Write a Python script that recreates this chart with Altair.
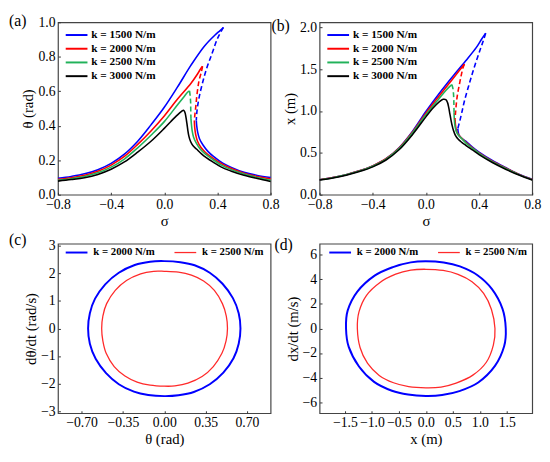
import altair as alt
import pandas as pd

FONT = "Liberation Serif"

# ---------------- panel (a): theta vs sigma ----------------
K_AB = ["k = 1500 N/m", "k = 2000 N/m", "k = 2500 N/m", "k = 3000 N/m"]
COL_AB = ["#0000ff", "#ff0000", "#21b25a", "#000000"]

A1500_UP_S = [-0.8, -0.7, -0.6, -0.5, -0.4, -0.3, -0.2, -0.1, 0.0, 0.1, 0.2, 0.3, 0.38, 0.42, 0.445]
A1500_UP_V = [0.095, 0.106, 0.121, 0.145, 0.182, 0.235, 0.31, 0.405, 0.507, 0.625, 0.75, 0.86, 0.925, 0.952, 0.97]
A1500_DA_S = [0.445, 0.40, 0.36, 0.32, 0.29, 0.265, 0.25, 0.243, 0.241]
A1500_DA_V = [0.97, 0.905, 0.82, 0.735, 0.655, 0.575, 0.51, 0.46, 0.43]
A1500_LO_S = [0.241, 0.244, 0.252, 0.265, 0.29, 0.33, 0.37, 0.44, 0.5, 0.6, 0.7, 0.8]
A1500_LO_V = [0.43, 0.40, 0.36, 0.325, 0.29, 0.25, 0.222, 0.183, 0.16, 0.13, 0.112, 0.10]

A2000_UP_S = [-0.8, -0.7, -0.6, -0.5, -0.4, -0.3, -0.2, -0.1, 0.0, 0.1, 0.2, 0.25, 0.275, 0.288]
A2000_UP_V = [0.089, 0.099, 0.113, 0.136, 0.172, 0.222, 0.292, 0.37, 0.457, 0.555, 0.645, 0.70, 0.732, 0.745]
A2000_DA_S = [0.288, 0.28, 0.262, 0.247, 0.237, 0.229, 0.226]
A2000_DA_V = [0.745, 0.715, 0.663, 0.587, 0.511, 0.455, 0.43]
A2000_LO_S = [0.226, 0.229, 0.236, 0.25, 0.275, 0.31, 0.36, 0.43, 0.5, 0.6, 0.7, 0.8]
A2000_LO_V = [0.43, 0.39, 0.35, 0.31, 0.275, 0.245, 0.215, 0.18, 0.153, 0.125, 0.106, 0.092]

A2500_UP_S = [-0.8, -0.7, -0.6, -0.5, -0.4, -0.3, -0.2, -0.1, 0.0, 0.1, 0.15, 0.175, 0.19]
A2500_UP_V = [0.084, 0.093, 0.106, 0.127, 0.16, 0.207, 0.272, 0.345, 0.424, 0.522, 0.57, 0.594, 0.602]
A2500_DA_S = [0.19, 0.194, 0.198, 0.199, 0.2, 0.201]
A2500_DA_V = [0.602, 0.578, 0.54, 0.50, 0.464, 0.44]
A2500_LO_S = [0.201, 0.204, 0.21, 0.22, 0.24, 0.27, 0.31, 0.36, 0.43, 0.5, 0.6, 0.7, 0.8]
A2500_LO_V = [0.44, 0.41, 0.37, 0.335, 0.30, 0.265, 0.235, 0.207, 0.172, 0.147, 0.12, 0.10, 0.084]

A3000_S = [-0.8, -0.7, -0.6, -0.5, -0.4, -0.3, -0.2, -0.1, 0.0, 0.05, 0.1, 0.13, 0.145, 0.155,
           0.163, 0.17, 0.177, 0.185, 0.197, 0.215, 0.242, 0.28, 0.316, 0.365, 0.43, 0.5, 0.6, 0.7, 0.8]
A3000_V = [0.079, 0.088, 0.099, 0.118, 0.148, 0.19, 0.247, 0.31, 0.385, 0.425, 0.463, 0.483, 0.49, 0.478,
           0.45, 0.415, 0.375, 0.34, 0.31, 0.285, 0.265, 0.237, 0.215, 0.19, 0.16, 0.138, 0.113, 0.094, 0.077]

# ---------------- panel (b): x vs sigma ----------------
B1500_UP_S = [-0.8, -0.7, -0.6, -0.5, -0.4, -0.3, -0.2, -0.1, 0.0, 0.1, 0.2, 0.3, 0.38, 0.42, 0.45]
B1500_UP_V = [0.18, 0.205, 0.24, 0.285, 0.345, 0.43, 0.565, 0.76, 0.995, 1.21, 1.41, 1.6, 1.76, 1.86, 1.93]
B1500_DA_S = [0.45, 0.43, 0.41, 0.38, 0.35, 0.32, 0.29, 0.27, 0.255, 0.245, 0.24]
B1500_DA_V = [1.93, 1.83, 1.74, 1.6, 1.45, 1.29, 1.12, 0.98, 0.88, 0.82, 0.79]
B1500_LO_S = [0.24, 0.243, 0.25, 0.265, 0.3, 0.35, 0.4, 0.5, 0.6, 0.7, 0.8]
B1500_LO_V = [0.79, 0.75, 0.71, 0.68, 0.64, 0.57, 0.51, 0.41, 0.325, 0.245, 0.185]

B2000_UP_S = [-0.8, -0.7, -0.6, -0.5, -0.4, -0.3, -0.2, -0.1, 0.0, 0.1, 0.2, 0.25, 0.275, 0.29]
B2000_UP_V = [0.18, 0.205, 0.24, 0.285, 0.345, 0.43, 0.56, 0.75, 0.975, 1.18, 1.38, 1.48, 1.53, 1.56]
B2000_DA_S = [0.29, 0.28, 0.265, 0.25, 0.237, 0.228, 0.222, 0.22]
B2000_DA_V = [1.56, 1.52, 1.42, 1.3, 1.19, 1.07, 0.96, 0.9]
B2000_LO_S = [0.22, 0.222, 0.228, 0.24, 0.26, 0.3, 0.35, 0.4, 0.5, 0.6, 0.7, 0.8]
B2000_LO_V = [0.9, 0.84, 0.78, 0.73, 0.69, 0.63, 0.56, 0.5, 0.4, 0.32, 0.243, 0.183]

B2500_UP_S = [-0.8, -0.7, -0.6, -0.5, -0.4, -0.3, -0.2, -0.1, 0.0, 0.1, 0.15, 0.18, 0.195]
B2500_UP_V = [0.178, 0.203, 0.238, 0.282, 0.34, 0.425, 0.553, 0.74, 0.955, 1.15, 1.245, 1.295, 1.315]
B2500_DA_S = [0.195, 0.202, 0.207, 0.21, 0.211, 0.212]
B2500_DA_V = [1.315, 1.28, 1.22, 1.14, 1.05, 0.98]
B2500_LO_S = [0.212, 0.214, 0.219, 0.228, 0.245, 0.27, 0.3, 0.35, 0.4, 0.5, 0.6, 0.7, 0.8]
B2500_LO_V = [0.98, 0.9, 0.82, 0.76, 0.71, 0.67, 0.62, 0.555, 0.495, 0.395, 0.315, 0.24, 0.18]

B3000_S = [-0.8, -0.7, -0.6, -0.5, -0.4, -0.3, -0.2, -0.1, 0.0, 0.05, 0.1, 0.13, 0.15, 0.163, 0.172,
           0.18, 0.188, 0.197, 0.207, 0.222, 0.242, 0.27, 0.3, 0.35, 0.4, 0.5, 0.6, 0.7, 0.8]
B3000_V = [0.175, 0.2, 0.234, 0.277, 0.333, 0.415, 0.54, 0.72, 0.93, 1.03, 1.11, 1.14, 1.135, 1.1, 1.04,
           0.97, 0.9, 0.83, 0.77, 0.71, 0.665, 0.625, 0.59, 0.535, 0.48, 0.385, 0.305, 0.235, 0.175]

# ---------------- panels (c), (d): phase portraits ----------------
K_CD = ["k = 2000 N/m", "k = 2500 N/m"]
COL_CD = ["#0000ff", "#ff2a2a"]

C2000_X = [0.0, 0.136, 0.257, 0.385, 0.493, 0.581, 0.63, 0.645, 0.63, 0.586, 0.50, 0.385, 0.25, 0.12,
           0.0, -0.136, -0.257, -0.385, -0.493, -0.581, -0.63, -0.645, -0.63, -0.586, -0.50, -0.385, -0.25, -0.12]
C2000_Y = [2.44, 2.40, 2.29, 2.02, 1.62, 1.1, 0.55, 0.0, -0.55, -1.08, -1.6, -2.02, -2.3, -2.42,
           -2.45, -2.41, -2.29, -2.02, -1.62, -1.1, -0.55, 0.0, 0.55, 1.08, 1.6, 2.02, 2.3, 2.42]
C2500_X = [0.0, 0.12, 0.23, 0.333, 0.424, 0.492, 0.525, 0.535, 0.523, 0.488, 0.415, 0.32, 0.2, 0.09,
           0.0, -0.12, -0.23, -0.333, -0.424, -0.492, -0.52, -0.53, -0.52, -0.488, -0.415, -0.32, -0.2, -0.09]
C2500_Y = [2.07, 2.04, 1.93, 1.72, 1.38, 0.9, 0.45, 0.0, -0.45, -0.9, -1.38, -1.74, -1.98, -2.08,
           -2.09, -2.05, -1.94, -1.72, -1.38, -0.9, -0.45, 0.0, 0.45, 0.9, 1.38, 1.74, 1.98, 2.07]

D2000_X = [0.0, 0.33, 0.63, 0.95, 1.225, 1.42, 1.48, 1.45, 1.28, 0.97, 0.62, 0.3,
           0.0, -0.33, -0.63, -0.96, -1.24, -1.43, -1.48, -1.45, -1.27, -0.95, -0.61, -0.28]
D2000_Y = [5.47, 5.37, 5.05, 4.35, 3.2, 1.6, 0.0, -1.45, -3.05, -4.4, -5.1, -5.42,
           -5.49, -5.38, -5.07, -4.35, -3.1, -1.5, 0.0, 1.45, 3.0, 4.3, 5.0, 5.38]
D2500_X = [0.0, 0.32, 0.595, 0.855, 1.07, 1.215, 1.28, 1.25, 1.12, 0.87, 0.56, 0.28,
           0.0, -0.32, -0.6, -0.865, -1.08, -1.22, -1.27, -1.24, -1.1, -0.85, -0.56, -0.28]
D2500_Y = [4.82, 4.72, 4.4, 3.8, 2.85, 1.55, 0.0, -1.35, -2.75, -3.8, -4.45, -4.77,
           -4.83, -4.73, -4.42, -3.82, -2.85, -1.55, 0.0, 1.35, 2.7, 3.75, 4.42, 4.75]


def branch_rows(label, branches):
    out = []
    for bi, (style, s, v) in enumerate(branches):
        for i, (a, b) in enumerate(zip(s, v)):
            out.append({"k": label, "seg": f"{label}-{bi}", "style": style, "i": i, "s": a, "v": b})
    return out


rows_a = (branch_rows(K_AB[0], [("solid", A1500_UP_S, A1500_UP_V), ("dash", A1500_DA_S, A1500_DA_V), ("solid", A1500_LO_S, A1500_LO_V)])
          + branch_rows(K_AB[1], [("solid", A2000_UP_S, A2000_UP_V), ("dash", A2000_DA_S, A2000_DA_V), ("solid", A2000_LO_S, A2000_LO_V)])
          + branch_rows(K_AB[2], [("solid", A2500_UP_S, A2500_UP_V), ("dash", A2500_DA_S, A2500_DA_V), ("solid", A2500_LO_S, A2500_LO_V)])
          + branch_rows(K_AB[3], [("solid", A3000_S, A3000_V)]))
rows_b = (branch_rows(K_AB[0], [("solid", B1500_UP_S, B1500_UP_V), ("dash", B1500_DA_S, B1500_DA_V), ("solid", B1500_LO_S, B1500_LO_V)])
          + branch_rows(K_AB[1], [("solid", B2000_UP_S, B2000_UP_V), ("dash", B2000_DA_S, B2000_DA_V), ("solid", B2000_LO_S, B2000_LO_V)])
          + branch_rows(K_AB[2], [("solid", B2500_UP_S, B2500_UP_V), ("dash", B2500_DA_S, B2500_DA_V), ("solid", B2500_LO_S, B2500_LO_V)])
          + branch_rows(K_AB[3], [("solid", B3000_S, B3000_V)]))
df_a = pd.DataFrame(rows_a)
df_b = pd.DataFrame(rows_b)


def loop_rows(label, xs, ys):
    return [{"k": label, "i": i, "x": a, "y": b} for i, (a, b) in enumerate(zip(xs, ys))]


df_c = pd.DataFrame(loop_rows(K_CD[0], C2000_X, C2000_Y) + loop_rows(K_CD[1], C2500_X, C2500_Y))
df_d = pd.DataFrame(loop_rows(K_CD[0], D2000_X, D2000_Y) + loop_rows(K_CD[1], D2500_X, D2500_Y))

W = 217
LINE_SYMBOL = "M-1.85,0H1.85"


def panel_title(txt, dx, dy):
    return alt.TitleParams(text=txt, anchor="start", frame="group", orient="top", dx=dx, dy=dy, offset=0,
                           baseline="alphabetic", fontSize=16, font=FONT, fontWeight="normal", color="black")


def axis(title, values, fmt):
    return alt.Axis(title=title, values=values, format=fmt, labelOverlap=False, labelFlush=False)


def response(df, ytitle, ydom, yvals, txt, dx):
    color = alt.Color("k:N", scale=alt.Scale(domain=K_AB, range=COL_AB),
                      legend=alt.Legend(title=None, orient="none", legendX=12, legendY=6, padding=0,
                                        symbolType=LINE_SYMBOL, symbolSize=144, symbolStrokeWidth=2,
                                        labelFont=FONT, labelFontWeight="bold", labelFontSize=11.5,
                                        labelOffset=8, rowPadding=1))
    x = alt.X("s:Q", scale=alt.Scale(domain=[-0.8, 0.8], nice=False),
              axis=axis("σ", [-0.8, -0.4, 0.0, 0.4, 0.8], ".1f"))
    y = alt.Y("v:Q", scale=alt.Scale(domain=ydom, nice=False), axis=axis(ytitle, yvals, ".1f"))
    base = alt.Chart(df)
    solid = base.transform_filter("datum.style == 'solid'").mark_line(
        strokeWidth=1.6, interpolate="catmull-rom").encode(x=x, y=y, color=color, detail="seg:N", order="i:Q")
    dashed = base.transform_filter("datum.style == 'dash'").mark_line(
        strokeWidth=1.6, strokeDash=[5, 3], interpolate="catmull-rom").encode(
        x=x, y=y, color=color, detail="seg:N", order="i:Q")
    return alt.layer(solid, dashed).properties(width=W, height=176, title=panel_title(txt, dx, 27))


def phase(df, xtitle, xdom, xvals, xfmt, ytitle, ydom, yvals, txt, dx, lx):
    color = alt.Color("k:N", scale=alt.Scale(domain=K_CD, range=COL_CD),
                      legend=alt.Legend(title=None, orient="none", legendX=lx, legendY=2, padding=0,
                                        direction="horizontal", columns=2, columnPadding=17,
                                        symbolType=LINE_SYMBOL, symbolSize=144, symbolStrokeWidth=2,
                                        labelFont=FONT, labelFontWeight="bold", labelFontSize=11,
                                        labelOffset=10))
    return alt.Chart(df).mark_line(interpolate="cardinal-closed").encode(
        x=alt.X("x:Q", scale=alt.Scale(domain=xdom, nice=False), axis=axis(xtitle, xvals, xfmt)),
        y=alt.Y("y:Q", scale=alt.Scale(domain=ydom, nice=False), axis=axis(ytitle, yvals, "d")),
        color=color,
        strokeWidth=alt.StrokeWidth("k:N", scale=alt.Scale(domain=K_CD, range=[2.0, 1.3]), legend=None),
        order="i:Q",
    ).properties(width=W, height=173, title=panel_title(txt, dx, 22))


pa = response(df_a, "θ (rad)", [0, 1.0], [0.0, 0.2, 0.4, 0.6, 0.8, 1.0], "(a)", -50)
pb = response(df_b, "x (m)", [0, 2.06], [0.0, 0.5, 1.0, 1.5, 2.0], "(b)", -49)
pc = phase(df_c, "θ (rad)", [-0.9, 0.9], [-0.7, -0.35, 0.0, 0.35, 0.7], ".2f",
           "dθ/dt (rad/s)", [-3.07, 3.07], [-3, -2, -1, 0, 1, 2, 3], "(c)", -50, 12)
pd_ = phase(df_d, "x (m)", [-1.97, 1.97], [-1.5, -1.0, -0.5, 0.0, 0.5, 1.0, 1.5], ".1f",
            "dx/dt (m/s)", [-6.9, 6.9], [-6, -4, -2, 0, 2, 4, 6], "(d)", -46, 14)

chart = alt.concat(pa, pb, pc, pd_, columns=2, spacing=50, bounds="flush").resolve_scale(
    color="independent", strokeWidth="independent").properties(padding=0).configure(
    font=FONT).configure_view(stroke="#444444", strokeWidth=1.2).configure_axis(
    labelFont=FONT, labelFontSize=14, labelColor="black", titleFont=FONT, titleFontSize=15,
    titleFontWeight="normal", titleColor="black", titlePadding=2, tickSize=2.5, tickColor="#333",
    offset=-2.5, labelPadding=3, grid=False, domain=False)

chart.save("out.html", embed_options={"renderer": "svg", "actions": False})
